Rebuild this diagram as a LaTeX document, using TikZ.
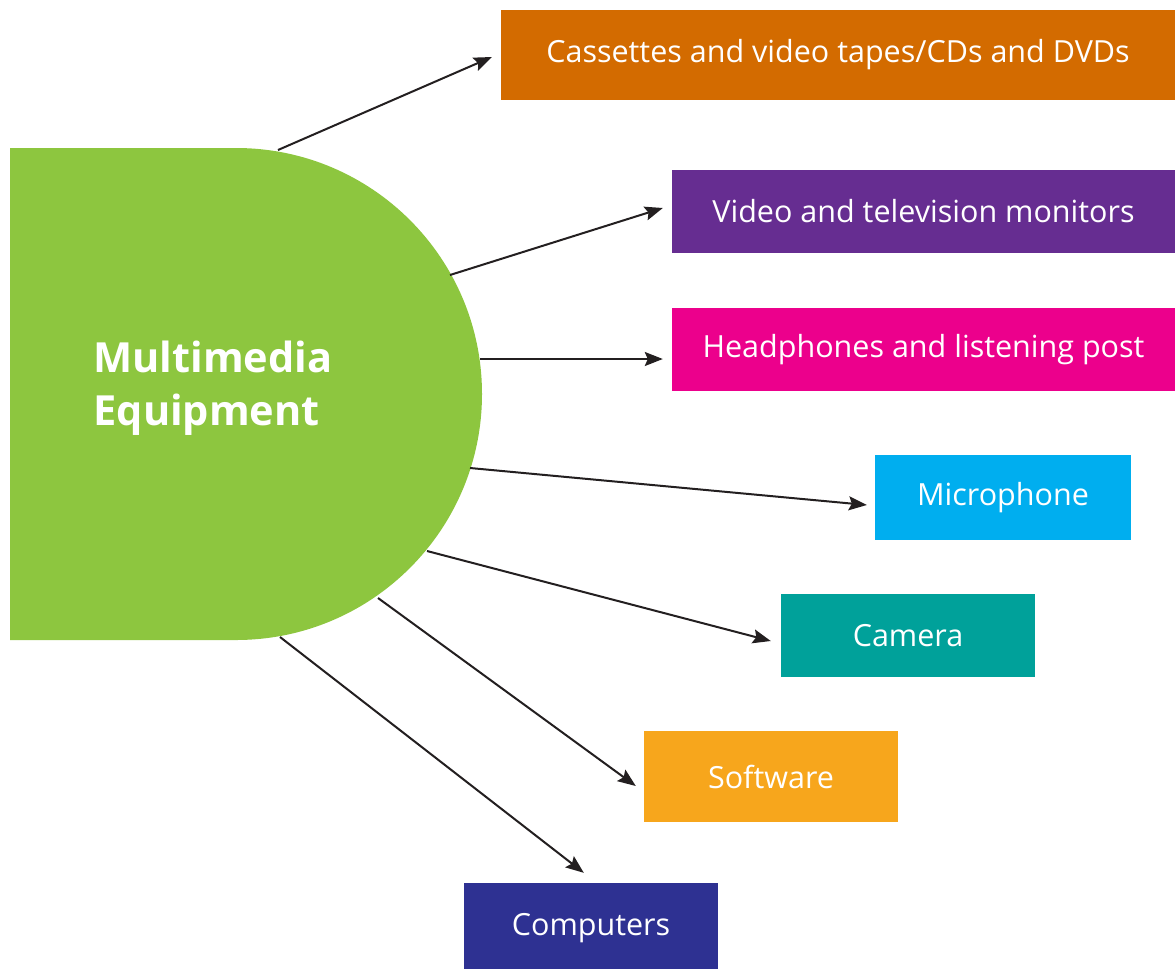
\documentclass[tikz,border=0pt]{standalone}
\usepackage{fontspec}
\setmainfont{Open Sans}
\usetikzlibrary{arrows.meta,calc}
\definecolor{cgreen}{RGB}{141,198,63}
\definecolor{corange}{RGB}{211,107,0}
\definecolor{cpurple}{RGB}{102,45,145}
\definecolor{cmagenta}{RGB}{236,0,140}
\definecolor{ccyan}{RGB}{0,174,239}
\definecolor{cteal}{RGB}{0,161,154}
\definecolor{cyellow}{RGB}{247,166,28}
\definecolor{cnavy}{RGB}{46,49,146}
\definecolor{carrow}{RGB}{35,31,32}
\tikzset{
  itembox/.style={fill=#1, text=white, inner sep=0pt, font=\fontsize{30.5}{34}\selectfont},
  link/.style={draw=carrow, line width=2pt, -{Stealth[length=18pt,width=14pt,inset=3pt]}}
}
\begin{document}
\begin{tikzpicture}[x=1pt,y=-1pt]
\useasboundingbox (0,0) rectangle (1175,970);
% green shape
\coordinate (c) at (236,394);
\fill[cgreen] (10,148) -- (236,148) arc[start angle=-90, end angle=90, radius=246] -- (10,640) -- cycle;
\node[text=white, align=left, font=\bfseries\fontsize{41.5}{53}\selectfont] (title) at (213,388) {Multimedia\\Equipment};
% boxes
\node[itembox=corange, minimum width=674pt, minimum height=90pt] (b1) at (838,55) {Cassettes and video tapes/CDs and DVDs};
\node[itembox=cpurple, minimum width=503pt, minimum height=83pt] (b2) at (923.5,211.5) {Video and television monitors};
\node[itembox=cmagenta, minimum width=503pt, minimum height=83pt] (b3) at (923.5,349.5) {Headphones and listening post};
\node[itembox=ccyan, minimum width=256pt, minimum height=85pt] (b4) at (1003,497.5) {Microphone};
\node[itembox=cteal, minimum width=254pt, minimum height=83pt] (b5) at (908,635.5) {Camera};
\node[itembox=cyellow, minimum width=254pt, minimum height=91pt] (b6) at (771,776.5) {Software};
\node[itembox=cnavy, minimum width=254pt, minimum height=86pt, text depth=4pt] (b7) at (591,926) {Computers};
% start points on the green shape
\coordinate (s1) at (278,150);
\coordinate (s2) at (450,275);
\coordinate (s3) at (480,359);
\coordinate (s4) at (470,468);
\coordinate (s5) at (427,551);
\coordinate (s6) at (378,598);
\coordinate (s7) at (280,637);
% arrows
\draw[link] (s1) -- ($(b1.west)+(-9,2)$);
\draw[link] (s2) -- ($(b2.west)+(-9,-3.5)$);
\draw[link] (s3) -- ($(b3.west)+(-9,9.5)$);
\draw[link] (s4) -- ($(b4.west)+(-8,7.5)$);
\draw[link] (s5) -- ($(b5.west)+(-10,5.5)$);
\draw[link] (s6) -- ($(b6.west)+(-8,9.5)$);
\draw[link] (s7) -- ($(b7.north west)+(120,-10)$);
\end{tikzpicture}
\end{document}
